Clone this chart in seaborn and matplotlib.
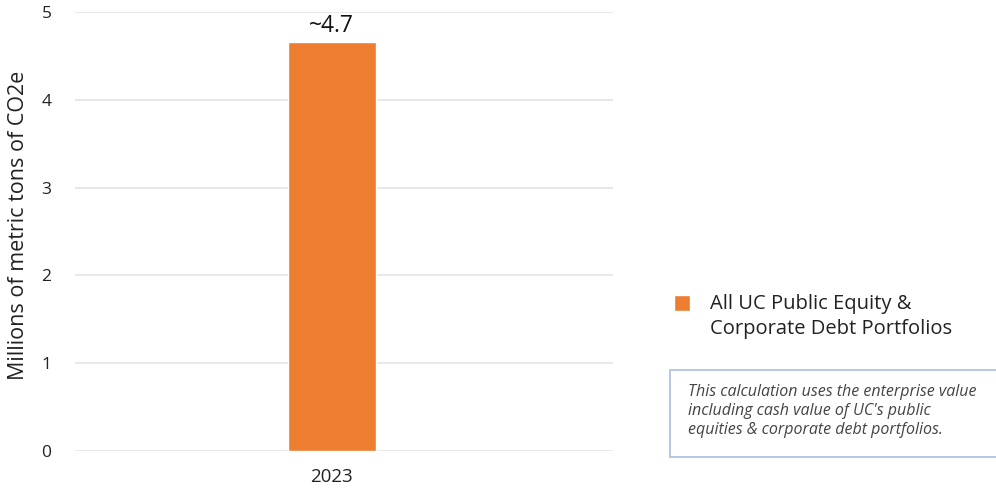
import matplotlib
matplotlib.use("Agg")
import matplotlib.pyplot as plt
import seaborn as sns
import pandas as pd
from matplotlib.patches import Rectangle
from matplotlib.legend_handler import HandlerPatch

years = ["2023"]
values = [4.66]
series = ["All UC Public Equity &\nCorporate Debt Portfolios"]
value_labels = ["~4.7"]
y_ticks = [0, 1, 2, 3, 4, 5]
note = ("This calculation uses the enterprise value\n"
        "including cash value of UC's public\n"
        "equities & corporate debt portfolios.")

sns.set_theme(style="white")
plt.rcParams["font.family"] = ["Open Sans", "DejaVu Sans"]

df = pd.DataFrame({"year": years, "value": values, "series": series})

fig = plt.figure(figsize=(9.96, 4.91), dpi=100)
ax = fig.add_axes([75/996, 1 - 451/491, (613-75)/996, (451-12)/491])

orange = "#ED7D31"
sns.barplot(data=df, x="year", y="value", hue="series", palette=[orange],
            saturation=1, width=0.5, ax=ax, legend=True)

ax.set_ylim(0, 5)
ax.set_xlim(-1.46, 1.6)
ax.set_yticks(y_ticks)
ax.set_yticklabels([str(t) for t in y_ticks], fontsize=12.5, color="#222222")
ax.tick_params(axis="x", labelsize=13.5, colors="#222222", pad=12, length=0)
ax.tick_params(axis="y", pad=17, length=0)
ax.yaxis.grid(True, color="#e6e6e6", linewidth=1.3)
ax.set_axisbelow(True)
for s in ax.spines.values():
    s.set_visible(False)
ax.set_xlabel("")
ax.set_ylabel("Millions of metric tons of CO2e", fontsize=15.5, color="#222222")
ax.yaxis.set_label_coords((29 - 75) / 538, (451 - 225) / 439)

for c in ax.containers:
    ax.bar_label(c, labels=value_labels, padding=3, fontsize=16.5,
                 fontweight="medium", color="#111111")


def square_top(legend, orig_handle, xdescent, ydescent, width, height, fontsize):
    s = 11.3
    return Rectangle((-xdescent, -ydescent + 9.5), s, s)


handles, labels = ax.get_legend_handles_labels()
if ax.legend_ is not None:
    ax.legend_.remove()
leg = ax.legend(handles, labels, loc="upper left",
                bbox_to_anchor=(660/996, 1 - 280/491),
                bbox_transform=fig.transFigure, frameon=False,
                fontsize=14.5, handlelength=0.75, handleheight=0.75,
                handletextpad=1.05, borderpad=0.2,
                handler_map={Rectangle: HandlerPatch(patch_func=square_top)})
for t in leg.get_texts():
    t.set_color("#222222")
    t.set_linespacing(1.3)

box = Rectangle((670/996, 1 - 457/491), (1000-670)/996, 87/491,
                transform=fig.transFigure, facecolor="white",
                edgecolor="#a9bde0", linewidth=1.2, clip_on=False)
fig.add_artist(box)
fig.text(688/996, 1 - 384/491, note, ha="left", va="top", fontsize=11.5,
         style="italic", color="#444444", linespacing=1.25)

fig.savefig("out.png", dpi=100)
